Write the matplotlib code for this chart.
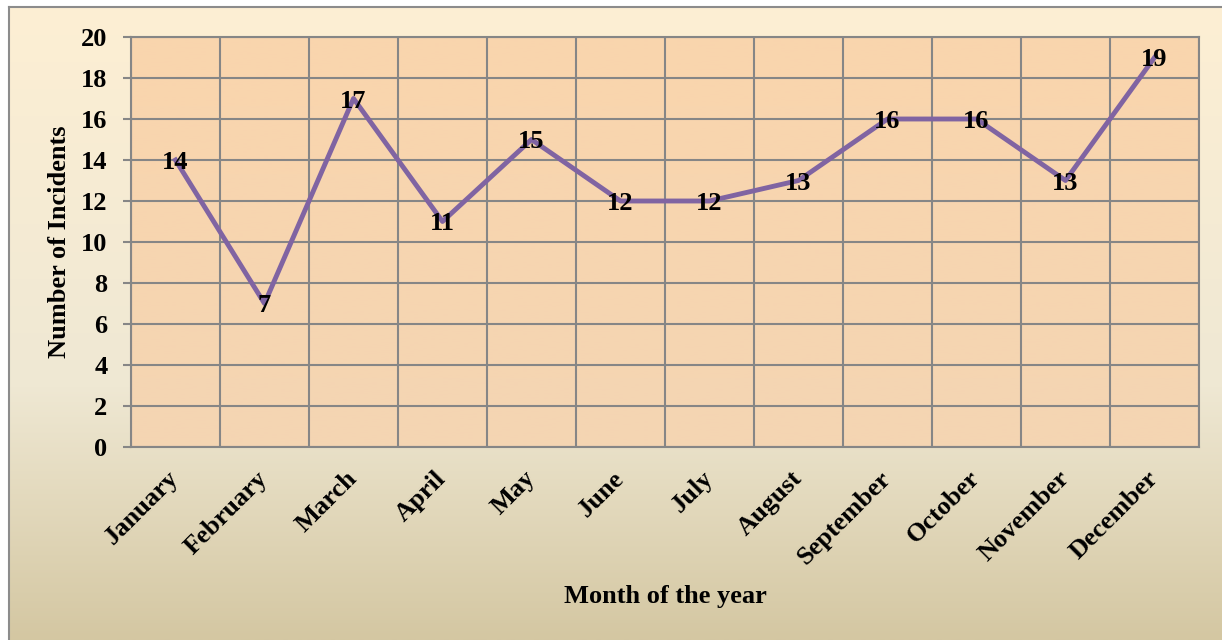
import numpy as np
import matplotlib.pyplot as plt
from matplotlib.colors import LinearSegmentedColormap

months = ["January", "February", "March", "April", "May", "June", "July",
          "August", "September", "October", "November", "December"]
incidents = [14, 7, 17, 11, 15, 12, 12, 13, 16, 16, 13, 19]
y_ticks = list(range(0, 21, 2))

plt.rcParams['font.family'] = ['Liberation Serif', 'DejaVu Serif']
plt.rcParams['font.weight'] = 'bold'

W, H = 1222, 640
fig = plt.figure(figsize=(W / 100, H / 100), dpi=100)

# chart-area background with a vertical gradient
bg = fig.add_axes([9 / W, 0, 1 - 9 / W, 1 - 7 / H])
bg_cmap = LinearSegmentedColormap.from_list(
    'bg', [(0, '#fdefd4'), (0.6, '#efe8d3'), (1, '#d4c7a2')])
bg.imshow(np.linspace(0, 1, 256).reshape(-1, 1), cmap=bg_cmap,
          aspect='auto', extent=(0, 1, 0, 1))
bg.set_xticks([])
bg.set_yticks([])
for side in ('right', 'bottom'):
    bg.spines[side].set_visible(False)
for side in ('left', 'top'):
    bg.spines[side].set_color('#8c8c8c')
    bg.spines[side].set_linewidth(1.5)

# plot area
ax = fig.add_axes([131 / W, (H - 447) / H, (1199 - 131) / W, (447 - 37) / H])
pa_cmap = LinearSegmentedColormap.from_list('pa', ['#fad5ad', '#f4d5b3'])
ax.imshow(np.linspace(0, 1, 256).reshape(-1, 1), cmap=pa_cmap,
          aspect='auto', extent=(-0.5, 11.5, 0, 20), zorder=0)

x = np.arange(len(months))
ax.plot(x, incidents, color='#8064a2', lw=3.5, zorder=3)
for xi, v in zip(x, incidents):
    ax.text(xi, v, str(v), ha='center', va='center_baseline', fontsize=19,
            fontweight='bold', zorder=5)

ax.set_xlim(-0.5, 11.5)
ax.set_ylim(0, 20)
ax.set_yticks(y_ticks)
ax.set_xticks(x)
ax.set_xticks(np.arange(-0.5, 12, 1), minor=True)
ax.set_xticklabels(months, rotation=45, ha='right', va='center',
                   rotation_mode='anchor')
ax.tick_params(axis='x', which='both', length=0, pad=20, labelsize=19)
ax.tick_params(axis='y', length=6, width=1.5, color='#868686', pad=11,
               labelsize=19)

ax.grid(axis='y', color='#868686', lw=1.5, zorder=1)
ax.grid(axis='x', which='minor', color='#868686', lw=1.5, zorder=1)
for sp in ax.spines.values():
    sp.set_color('#868686')
    sp.set_linewidth(1.5)

fig.text(60 / W, 1 - 242 / H, "Number of Incidents", rotation=90,
         ha='center', va='center', fontsize=19, fontweight='bold')
fig.text(665 / W, 1 - 596 / H, "Month of the year", ha='center',
         va='center', fontsize=19, fontweight='bold')

fig.savefig("out.png", dpi=100)
